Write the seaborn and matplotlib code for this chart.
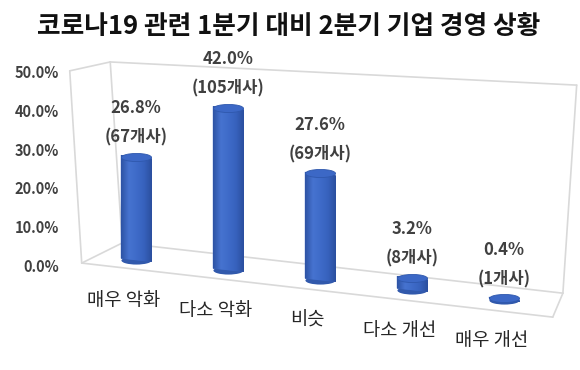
import numpy as np
import pandas as pd
import matplotlib
matplotlib.use('Agg')
import matplotlib.pyplot as plt
import seaborn as sns
from matplotlib.path import Path
from matplotlib.transforms import Affine2D
from matplotlib.colors import LinearSegmentedColormap

# values
categories = ['매우 악화', '다소 악화', '비슷', '다소 개선', '매우 개선']
shares = [26.8, 42.0, 27.6, 3.2, 0.4]
counts = [67, 105, 69, 8, 1]
y_ticks = [0, 10, 20, 30, 40, 50]
title = '코로나19 관련 1분기 대비 2분기 기업 경영 상황'

# light grey 3d box around the plot (x in bar slots, y in percent)
frame_edges = [
    [(-0.72, 50.3), (-0.59, 0.5)],
    [(-0.72, 50.3), (-0.28, 52.6)],
    [(-0.28, 52.6), (-0.15, 5.7)],
    [(-0.59, 0.5), (-0.15, 5.7)],
    [(-0.28, 52.6), (4.79, 46.6)],
    [(4.79, 46.6), (4.64, -7.3)],
    [(-0.15, 5.7), (4.64, -7.3)],
    [(-0.59, 0.5), (4.53, -13.5)],
    [(4.64, -7.3), (4.53, -13.5)],
]

sns.set_theme(style='white')
plt.rcParams['font.family'] = ['Noto Sans CJK KR', 'DejaVu Sans']

fig = plt.figure(figsize=(5.8, 3.7), dpi=100)
ax = fig.add_axes([68 / 580, 0, 512 / 580, 1])

# the floor tilts down to the right like the excel 3d view
tilt = Affine2D().from_values(1, -2.59, 0, 1, 0, 1.295)
tr = tilt + ax.transData

df = pd.DataFrame({'category': categories, 'share': shares})
sns.barplot(data=df, x='category', y='share', color='#3a66c6', saturation=1,
            width=0.33, linewidth=0, errorbar=None, ax=ax, zorder=3)

# cylinder shading
cyl = LinearSegmentedColormap.from_list(
    'cyl', ['#2d53a4', '#4673d0', '#3f6bc9', '#3762bd', '#2b4f9f'])
grad = np.linspace(0, 1, 64).reshape(1, -1)
for bar in list(ax.patches):
    bar.set_transform(tr)
    x0, w, h = bar.get_x(), bar.get_width(), bar.get_height()
    ax.imshow(grad, cmap=cyl, extent=(x0, x0 + w, 0, h), transform=tr,
              aspect='auto', interpolation='bicubic', zorder=3.5)

# elliptic caps, top and bottom
ell = Path.unit_circle().transformed(Affine2D().scale(1, 0.27))
xs = np.arange(len(categories))
ax.scatter(xs, np.zeros(len(xs)), marker=ell, s=470, color='#3159ac',
           linewidths=0, transform=tr, zorder=2.5)
ax.scatter(xs, shares, marker=ell, s=470, color='#3c68c6',
           edgecolors='#2f58ad', linewidths=0.6, transform=tr, zorder=4)

for i, (v, n) in enumerate(zip(shares, counts)):
    ax.annotate(f'({n}개사)', xy=(i, v), xycoords=tr, xytext=(0, 14),
                textcoords='offset points', ha='center', va='center',
                fontsize=12, fontweight='bold', color='#404040')
    ax.annotate(f'{v:.1f}%', xy=(i, v), xycoords=tr, xytext=(0, 35),
                textcoords='offset points', ha='center', va='center',
                fontsize=12, fontweight='bold', color='#404040')
    ax.annotate(categories[i], xy=(i, 0), xycoords=tr, xytext=(-9, -29),
                textcoords='offset points', ha='center', va='center',
                fontsize=13.5, color='#262626')

for a, b in frame_edges:
    ax.plot([a[0], b[0]], [a[1], b[1]], color='#d9d9d9', lw=1.2, zorder=1)

ax.set_xlim(-0.739, 4.826)
ax.set_ylim(-27.2, 68.65)
ax.set_yticks(y_ticks, [f'{t:.1f}%' for t in y_ticks])
ax.set_xticks([])
ax.tick_params(axis='y', length=0, pad=6.5, labelsize=10.5, labelcolor='#404040')
for lab in ax.get_yticklabels():
    lab.set_fontweight('bold')
ax.set_xlabel('')
ax.set_ylabel('')
ax.grid(False)
sns.despine(ax=ax, left=True, bottom=True)

fig.text(0.497, 1 - 27 / 370, title, ha='center', va='center',
         fontsize=18.5, fontweight='bold', color='#111111')

fig.savefig('out.png', dpi=100)
